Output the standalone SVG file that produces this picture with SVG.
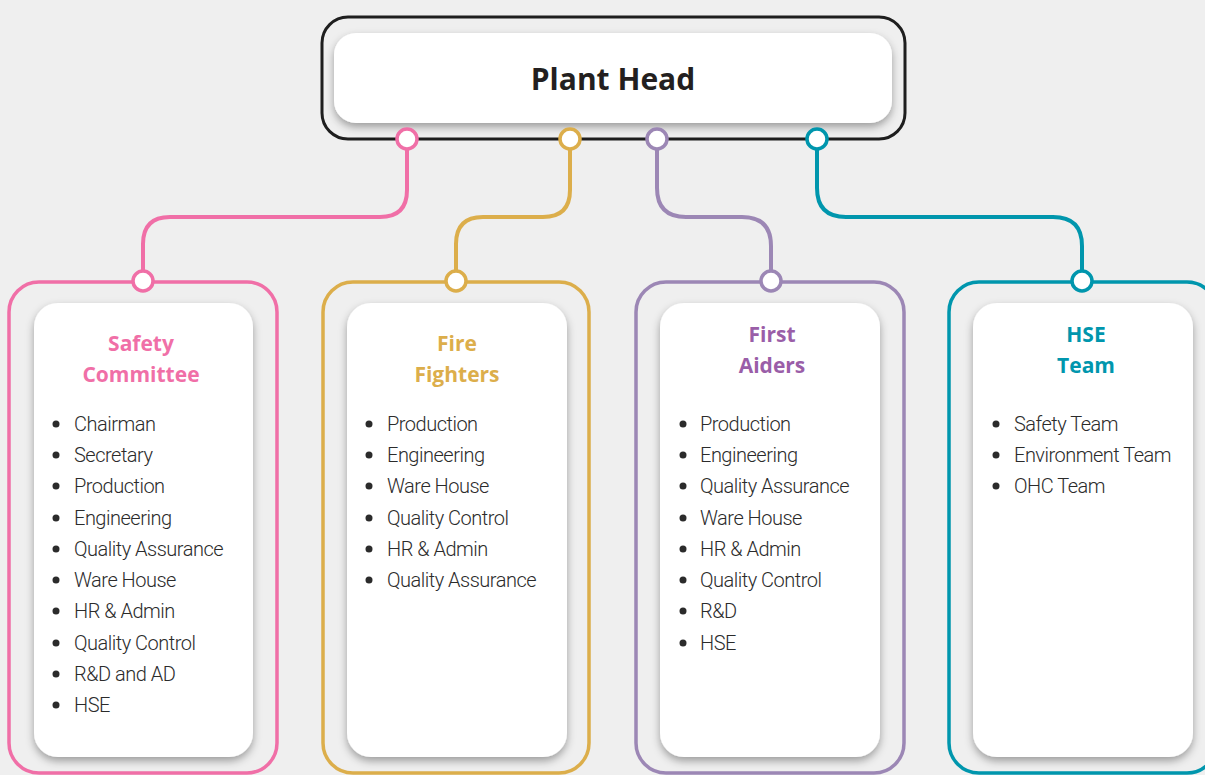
<svg xmlns="http://www.w3.org/2000/svg" width="1205" height="775" viewBox="0 0 1205 775">
<defs>
<filter id="sh" x="-20%" y="-20%" width="140%" height="140%">
<feDropShadow dx="0" dy="4" stdDeviation="4" flood-color="#000" flood-opacity="0.35"/>
</filter>
<style>
.card{fill:#fff;filter:url(#sh)}
.frame{fill:none;stroke-width:3.5}
.dot{fill:#fff;stroke-width:3.5}
.conn{fill:none;stroke-width:4}
.title{font-family:"Open Sans","Noto Sans",sans-serif;font-weight:700;font-size:21px;text-anchor:middle}
.item{font-family:Roboto,"Liberation Sans",sans-serif;font-weight:300;font-size:20px;letter-spacing:-0.5px;fill:#2b2b2b}
.bul{fill:#2b2b2b}
.pink{stroke:#f06fa7}
.gold{stroke:#dcae4b}
.purp{stroke:#9c87b5}
.teal{stroke:#0096ad}
</style>
</defs>
<rect width="1205" height="775" fill="#efefef"/>
<g id="connectors">
<path class="conn pink" d="M407 150 V190 Q407 217 380 217 H170 Q143 217 143 244 V272"/>
<path class="conn gold" d="M570 150 V190 Q570 217 543 217 H483 Q456 217 456 244 V272"/>
<path class="conn purp" d="M657 150 V188 Q657 217 686 217 H742 Q771 217 771 246 V272"/>
<path class="conn teal" d="M817 150 V188 Q817 217 846 217 H1053 Q1082 217 1082 246 V272"/>
</g>
<g id="plant-head">
<rect x="322" y="17" width="583" height="122" rx="26" fill="none" stroke="#1e1e1e" stroke-width="3"/>
<rect class="card" x="334" y="33" width="558" height="90" rx="22"/>
<text x="613" y="90" font-family="'Open Sans','Noto Sans',sans-serif" font-weight="700" font-size="30" fill="#231f20" text-anchor="middle">Plant Head</text>
<circle class="dot pink" cx="407" cy="139" r="10"/>
<circle class="dot gold" cx="570" cy="139" r="10"/>
<circle class="dot purp" cx="657" cy="139" r="10"/>
<circle class="dot teal" cx="817" cy="139" r="10"/>
</g>
<g id="safety-committee">
<rect class="frame pink" x="9" y="282" width="268" height="491" rx="30"/>
<circle class="dot pink" cx="143" cy="281" r="10"/>
<rect class="card" x="34" y="303" width="219" height="454" rx="24"/>
<text class="title" x="141" y="351" fill="#f06fa7">Safety</text>
<text class="title" x="141" y="382" fill="#f06fa7">Committee</text>
<g class="bul"><circle cx="56" cy="424" r="3.5"/><circle cx="56" cy="455" r="3.5"/><circle cx="56" cy="486" r="3.5"/><circle cx="56" cy="518" r="3.5"/><circle cx="56" cy="549" r="3.5"/><circle cx="56" cy="580" r="3.5"/><circle cx="56" cy="611" r="3.5"/><circle cx="56" cy="643" r="3.5"/><circle cx="56" cy="674" r="3.5"/><circle cx="56" cy="705" r="3.5"/></g>
<text class="item" x="74" y="431">Chairman</text>
<text class="item" x="74" y="462">Secretary</text>
<text class="item" x="74" y="493">Production</text>
<text class="item" x="74" y="525">Engineering</text>
<text class="item" x="74" y="556">Quality Assurance</text>
<text class="item" x="74" y="587">Ware House</text>
<text class="item" x="74" y="618">HR &amp; Admin</text>
<text class="item" x="74" y="650">Quality Control</text>
<text class="item" x="74" y="681">R&amp;D and AD</text>
<text class="item" x="74" y="712">HSE</text>
</g>
<g id="fire-fighters">
<rect class="frame gold" x="323" y="282" width="266" height="491" rx="30"/>
<circle class="dot gold" cx="456" cy="281" r="10"/>
<rect class="card" x="347" y="303" width="220" height="454" rx="24"/>
<text class="title" x="457" y="351" fill="#dcae4b">Fire</text>
<text class="title" x="457" y="382" fill="#dcae4b">Fighters</text>
<g class="bul"><circle cx="369" cy="424" r="3.5"/><circle cx="369" cy="455" r="3.5"/><circle cx="369" cy="486" r="3.5"/><circle cx="369" cy="518" r="3.5"/><circle cx="369" cy="549" r="3.5"/><circle cx="369" cy="580" r="3.5"/></g>
<text class="item" x="387" y="431">Production</text>
<text class="item" x="387" y="462">Engineering</text>
<text class="item" x="387" y="493">Ware House</text>
<text class="item" x="387" y="525">Quality Control</text>
<text class="item" x="387" y="556">HR &amp; Admin</text>
<text class="item" x="387" y="587">Quality Assurance</text>
</g>
<g id="first-aiders">
<rect class="frame purp" x="636" y="282" width="268" height="491" rx="30"/>
<circle class="dot purp" cx="771" cy="281" r="10"/>
<rect class="card" x="660" y="303" width="220" height="454" rx="24"/>
<text class="title" x="772" y="342" fill="#9a5ea8">First</text>
<text class="title" x="772" y="373" fill="#9a5ea8">Aiders</text>
<g class="bul"><circle cx="683" cy="424" r="3.5"/><circle cx="683" cy="455" r="3.5"/><circle cx="683" cy="486" r="3.5"/><circle cx="683" cy="518" r="3.5"/><circle cx="683" cy="549" r="3.5"/><circle cx="683" cy="580" r="3.5"/><circle cx="683" cy="611" r="3.5"/><circle cx="683" cy="643" r="3.5"/></g>
<text class="item" x="700" y="431">Production</text>
<text class="item" x="700" y="462">Engineering</text>
<text class="item" x="700" y="493">Quality Assurance</text>
<text class="item" x="700" y="525">Ware House</text>
<text class="item" x="700" y="556">HR &amp; Admin</text>
<text class="item" x="700" y="587">Quality Control</text>
<text class="item" x="700" y="618">R&amp;D</text>
<text class="item" x="700" y="650">HSE</text>
</g>
<g id="hse-team">
<rect class="frame teal" x="949" y="282" width="268" height="491" rx="30"/>
<circle class="dot teal" cx="1082" cy="281" r="10"/>
<rect class="card" x="973" y="303" width="220" height="454" rx="24"/>
<text class="title" x="1086" y="342" fill="#0096ad">HSE</text>
<text class="title" x="1086" y="373" fill="#0096ad">Team</text>
<g class="bul"><circle cx="996" cy="424" r="3.5"/><circle cx="996" cy="455" r="3.5"/><circle cx="996" cy="486" r="3.5"/></g>
<text class="item" x="1014" y="431">Safety Team</text>
<text class="item" x="1014" y="462">Environment Team</text>
<text class="item" x="1014" y="493">OHC Team</text>
</g>
</svg>
